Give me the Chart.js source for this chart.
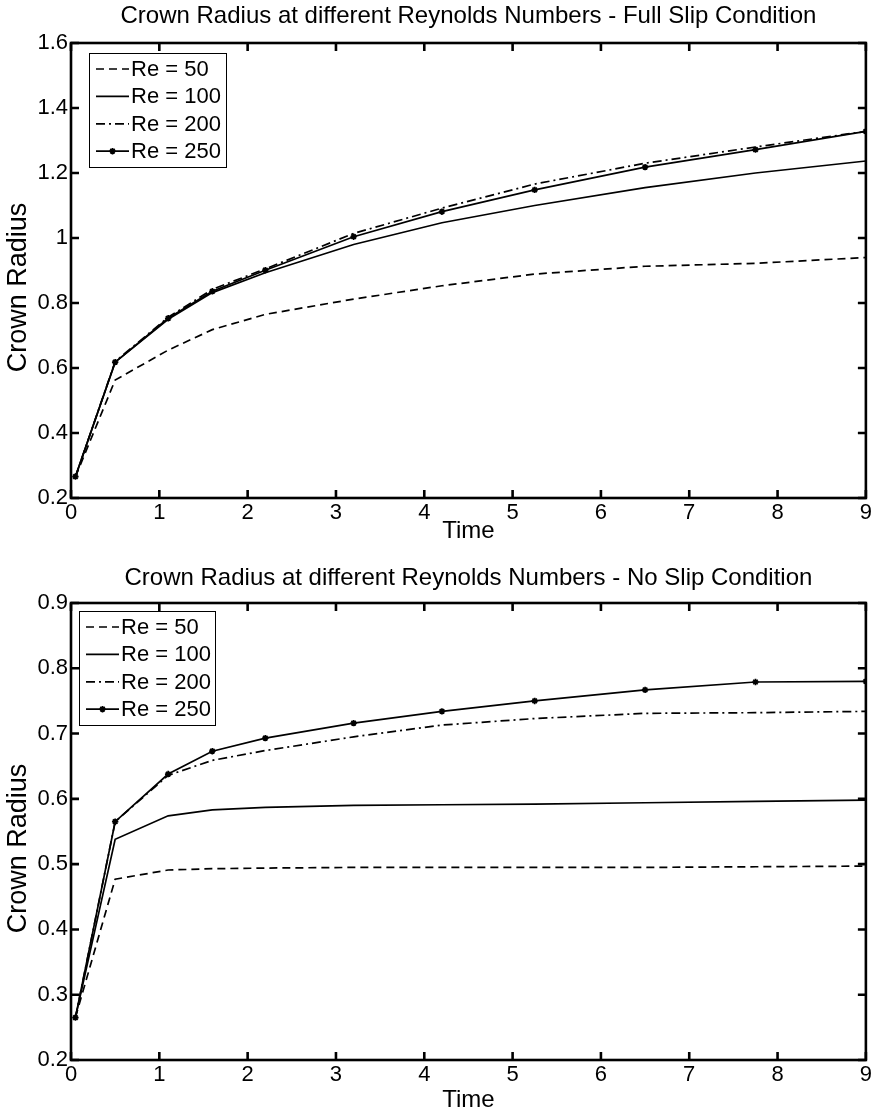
<!DOCTYPE html>
<html>
<head>
<meta charset="utf-8">
<title>Crown Radius at different Reynolds Numbers</title>
<script src="https://cdn.jsdelivr.net/npm/chart.js@4.4.0/dist/chart.umd.min.js"></script>
<style>
  html, body { margin: 0; padding: 0; background: #fff; }
  .panel { width: 874px; height: 556px; }
  canvas { display: block; }
</style>
</head>
<body>
<div class="panel"><canvas id="fullSlip" width="874" height="556"></canvas></div>
<div class="panel"><canvas id="noSlip" width="874" height="556"></canvas></div>
<script>
'use strict';

/* ── Data ─────────────────────────────────────────────────────────────── */
const TIMES   = [0.05, 0.5, 1.1, 1.6, 2.2, 3.2, 4.2, 5.25, 6.5, 7.75, 9];
const LABELS  = ['Re = 50', 'Re = 100', 'Re = 200', 'Re = 250'];
const X_TICKS = [0, 1, 2, 3, 4, 5, 6, 7, 8, 9];

// Full slip condition
const re50Full  = [0.265, 0.563, 0.655, 0.718, 0.765, 0.812, 0.853, 0.889, 0.913, 0.922, 0.940];
const re100Full = [0.265, 0.618, 0.750, 0.832, 0.893, 0.980, 1.047, 1.100, 1.155, 1.200, 1.237];
const re200Full = [0.265, 0.620, 0.756, 0.842, 0.905, 1.014, 1.092, 1.166, 1.230, 1.280, 1.328];
const re250Full = [0.266, 0.618, 0.753, 0.836, 0.901, 1.004, 1.081, 1.148, 1.218, 1.272, 1.328];
const yTicksFull = [0.2, 0.4, 0.6, 0.8, 1, 1.2, 1.4, 1.6];

// No slip condition
const re50No  = [0.265, 0.477, 0.491, 0.493, 0.494, 0.495, 0.495, 0.495, 0.495, 0.496, 0.497];
const re100No = [0.265, 0.538, 0.574, 0.583, 0.587, 0.590, 0.591, 0.592, 0.594, 0.596, 0.598];
const re200No = [0.265, 0.565, 0.636, 0.659, 0.674, 0.695, 0.713, 0.723, 0.731, 0.732, 0.734];
const re250No = [0.265, 0.565, 0.638, 0.673, 0.693, 0.716, 0.734, 0.750, 0.767, 0.779, 0.780];
const yTicksNo = [0.2, 0.3, 0.4, 0.5, 0.6, 0.7, 0.8, 0.9];

/* ── Styling ──────────────────────────────────────────────────────────── */
const FONT = '"Liberation Sans", Arial, sans-serif';
const LINE_STYLES = [
  { dash: [8, 5] },              // --
  { dash: [] },                  // -
  { dash: [9, 4, 2, 4] },        // -.
  { dash: [], marker: true }     // -*
];
const TICK_LEN = 8;

// frame + inward ticks, matlab style
function framePlugin() {
  return {
    id: 'matlabFrame',
    afterDatasetsDraw(chart) {
      const { ctx, chartArea: a, scales: { x, y } } = chart;
      ctx.save();
      ctx.strokeStyle = '#000';
      ctx.lineWidth = 2.6;
      ctx.setLineDash([]);
      ctx.strokeRect(a.left, a.top, a.right - a.left, a.bottom - a.top);
      ctx.beginPath();
      x.ticks.forEach(t => {
        const px = x.getPixelForValue(t.value);
        ctx.moveTo(px, a.bottom); ctx.lineTo(px, a.bottom - TICK_LEN);
        ctx.moveTo(px, a.top);    ctx.lineTo(px, a.top + TICK_LEN);
      });
      y.ticks.forEach(t => {
        const py = y.getPixelForValue(t.value);
        ctx.moveTo(a.left, py);  ctx.lineTo(a.left + TICK_LEN, py);
        ctx.moveTo(a.right, py); ctx.lineTo(a.right - TICK_LEN, py);
      });
      ctx.stroke();
      ctx.restore();
    }
  };
}

// title above the axes + the y label (sits a little below the axes centre, like the original)
function textPlugin(text, titleY) {
  return {
    id: 'matlabText',
    afterDraw(chart) {
      const { ctx, chartArea: a } = chart;
      ctx.save();
      ctx.fillStyle = '#000';
      ctx.font = '24px ' + FONT;
      ctx.textAlign = 'center';
      ctx.textBaseline = 'middle';
      ctx.fillText(text, (a.left + a.right) / 2, titleY);

      ctx.translate(19, (a.top + a.bottom) / 2 + 17);
      ctx.rotate(-Math.PI / 2);
      ctx.font = '27px ' + FONT;
      ctx.fillText('Crown Radius', 0, 0);
      ctx.restore();
    }
  };
}

// boxed legend with line samples, drawn over the plot
function legendPlugin(dx, dy, w) {
  return {
    id: 'boxLegend',
    afterDraw(chart) {
      const { ctx, chartArea: a } = chart;
      const left = a.left + dx, top = a.top + dy, h = 114;
      ctx.save();
      ctx.fillStyle = '#fff';
      ctx.fillRect(left, top, w, h);
      ctx.strokeStyle = '#000';
      ctx.lineWidth = 1;
      ctx.strokeRect(left + 0.5, top + 0.5, w, h);
      ctx.font = '22px ' + FONT;
      ctx.textBaseline = 'middle';
      chart.data.datasets.forEach((ds, i) => {
        const rowY = top + 16 + i * 27.4;
        ctx.strokeStyle = '#000';
        ctx.lineWidth = ds.borderWidth;
        ctx.setLineDash(ds.borderDash || []);
        ctx.beginPath();
        ctx.moveTo(left + 7, rowY);
        ctx.lineTo(left + 40, rowY);
        ctx.stroke();
        ctx.setLineDash([]);
        if (ds.pointRadius > 0) {
          Chart.helpers.drawPoint(ctx, {
            pointStyle: ds.pointStyle, radius: ds.pointRadius,
            borderWidth: ds.pointBorderWidth, rotation: 0
          }, left + 23.5, rowY);
        }
        ctx.fillStyle = '#000';
        ctx.fillText(ds.label, left + 42, rowY + 1);
      });
      ctx.restore();
    }
  };
}

function buildChart(id, opts) {
  const datasets = opts.series.map((vals, i) => ({
    label: LABELS[i],
    data: TIMES.map((t, j) => ({ x: t, y: vals[j] })),
    borderColor: '#000',
    backgroundColor: '#000',
    borderWidth: 1.7,
    borderDash: LINE_STYLES[i].dash,
    pointStyle: 'star',
    pointRadius: LINE_STYLES[i].marker ? 3.2 : 0,
    pointBorderWidth: 1.7,
    pointBorderColor: '#000',
    tension: 0,
    fill: false
  }));

  return new Chart(document.getElementById(id), {
    type: 'line',
    data: { datasets },
    options: {
      responsive: false,
      animation: false,
      devicePixelRatio: 1,
      layout: { padding: { top: opts.plotTop, right: 6, bottom: 0, left: 0 } },
      plugins: {
        legend: { display: false },
        tooltip: { enabled: false },
        title: { display: false }
      },
      scales: {
        x: {
          type: 'linear',
          min: 0,
          max: 9,
          afterBuildTicks: s => { s.ticks = X_TICKS.map(v => ({ value: v })); },
          afterFit: s => { s.height = opts.xHeight; },
          grid: { display: false, drawTicks: false },
          border: { display: false },
          ticks: { color: '#000', font: { family: FONT, size: 22 }, padding: 2, maxRotation: 0, autoSkip: false,
                   callback: v => String(v) },
          title: {
            display: true, text: 'Time', color: '#000',
            font: { family: FONT, size: 24, lineHeight: 1 },
            padding: { top: 0, bottom: opts.xTitlePad }
          }
        },
        y: {
          type: 'linear',
          min: opts.yTicks[0],
          max: opts.yTicks[opts.yTicks.length - 1],
          afterBuildTicks: s => { s.ticks = opts.yTicks.map(v => ({ value: v })); },
          afterFit: s => { s.width = 71; },
          grid: { display: false, drawTicks: false },
          border: { display: false },
          ticks: { color: '#000', font: { family: FONT, size: 22 }, padding: 3, autoSkip: false,
                   callback: v => String(v) },
          title: { display: false }
        }
      }
    },
    plugins: [framePlugin(), textPlugin(opts.title, opts.titleY), legendPlugin(opts.legendDx, opts.legendDy, opts.legendW)]
  });
}

buildChart('fullSlip', {
  title: 'Crown Radius at different Reynolds Numbers - Full Slip Condition',
  series: [re50Full, re100Full, re200Full, re250Full],
  yTicks: yTicksFull,
  plotTop: 43, xHeight: 58, xTitlePad: 13, titleY: 16,
  legendDx: 18, legendDy: 10, legendW: 137
});

buildChart('noSlip', {
  title: 'Crown Radius at different Reynolds Numbers - No Slip Condition',
  series: [re50No, re100No, re200No, re250No],
  yTicks: yTicksNo,
  plotTop: 47, xHeight: 52, xTitlePad: 0, titleY: 22,
  legendDx: 8, legendDy: 8, legendW: 136
});
</script>
</body>
</html>
